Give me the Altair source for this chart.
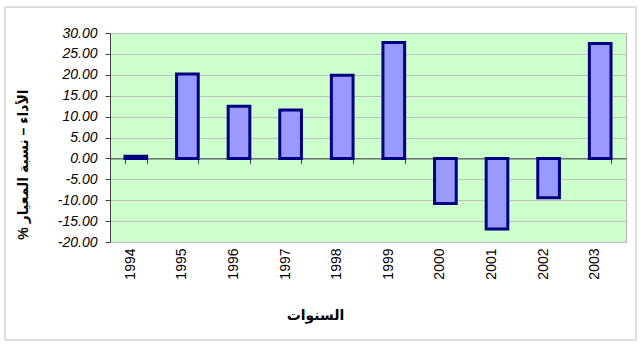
import altair as alt
import pandas as pd

years = ["1994", "1995", "1996", "1997", "1998", "1999", "2000", "2001", "2002", "2003"]
values = [0.5, 20.2, 12.5, 11.6, 19.9, 27.7, -10.8, -16.9, -9.4, 27.5]
y_ticks = [-20, -15, -10, -5, 0, 5, 10, 15, 20, 25, 30]

df = pd.DataFrame({"year": years, "value": values})

FONT = "Liberation Sans, Arial, DejaVu Sans"

x_scale = alt.Scale(paddingInner=0.58, paddingOuter=0.29)
y_scale = alt.Scale(domain=[-20, 30], nice=False, zero=False)

y_axis = alt.Axis(
    title="% الأداء – نسبة المعيار", values=y_ticks, labelOverlap=False,
    labelExpr="replace(format(datum.value, '.2f'), '\u2212', '-')",
    labelFont=FONT, labelFontStyle="italic", labelFontSize=14, labelColor="black",
    labelPadding=8, tickSize=5, tickColor="#404040", domainColor="#404040",
    grid=True, gridColor="#C0C0C0", gridWidth=1,
    titleFont=FONT, titleFontSize=14, titleFontWeight="bold", titleColor="black",
    titleX=-87, titleY=131, titleAngle=270, titleBaseline="middle", titleAlign="center",
)

border = alt.Chart(pd.DataFrame({"k": [0]})).mark_rect(
    fillOpacity=0, stroke="#BDBDBD", strokeWidth=1
).encode(
    x=alt.value(-105), x2=alt.value(526), y=alt.value(-26), y2=alt.value(307)
)

bars = alt.Chart(df).mark_bar(fill="#9999FF", stroke="#000080", strokeWidth=3).encode(
    x=alt.X(
        "year:N", sort=None, scale=x_scale,
        axis=alt.Axis(
            title="السنوات", labelAngle=270, ticks=False, domain=False, grid=False,
            labelPadding=6, labelFontSize=14, labelFont=FONT, labelColor="black",
            labelOffset=-5,
            titleFont=FONT, titleFontSize=14, titleFontWeight="bold", titleColor="black",
            titleX=205, titleY=73, titleBaseline="middle", titleAlign="center",
        ),
    ),
    y=alt.Y("value:Q", scale=y_scale, axis=y_axis),
)

zero_axis = alt.Chart(df).mark_point(opacity=0).encode(
    x=alt.X(
        "year:N", sort=None, scale=x_scale,
        axis=alt.Axis(
            orient="bottom", offset=-83.6, labels=False, title="", ticks=True,
            tickBand="extent", tickSize=5, tickColor="#404040", domainColor="#404040",
            grid=False,
        ),
    ),
    y=alt.Y("value:Q", scale=y_scale, axis=y_axis),
)

chart = alt.layer(border, bars, zero_axis).resolve_axis(x="independent").properties(
    width=516,
    height=209,
    autosize=alt.AutoSizeParams(type="none"),
    padding={"left": 110, "top": 33, "right": 18, "bottom": 105},
    background="white",
).configure_view(fill="#CCFFCC", stroke="#B4B4B4")

chart.save("out.html", embed_options={"renderer": "svg", "actions": False})
